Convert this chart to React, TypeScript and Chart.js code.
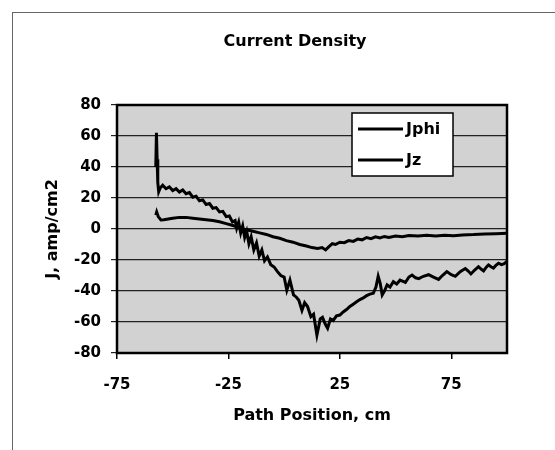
import { useEffect, useRef } from 'react';
import { Chart, registerables } from 'chart.js';

Chart.register(...registerables);

const chartTitle = 'Current Density';
const xAxisTitle = 'Path Position, cm';
const yAxisTitle = 'J, amp/cm2';
const seriesNames = ['Jphi', 'Jz'];

const xMin = -75;
const xMax = 100;
const xTickValues = [-75, -25, 25, 75];
const yMin = -80;
const yMax = 80;
const yStep = 20;

const jphiX = [
  -57.6, -57.3, -57.0, -56.7, -56.3, -55.6, -54.5, -53, -51.5, -50, -48.5, -47, -45.5,
  -44, -42.5, -41, -39.5, -38, -36.5, -35, -33.5, -32, -30.5, -29, -27.5,
  -26, -24.6, -23.2, -22, -21.3, -20.4, -19.5, -18.6, -17.7, -16.8, -15.8, -14.8,
  -13.6, -12.4, -11.2, -10, -8.8, -7.5, -6, -4.5, -3, -1.5, 0, 1.2, 2.6, 4.2, 5.5, 6.6, 8, 9.2,
  10.5, 12, 13.2, 14.7, 16.2, 17.2, 18.5, 19.5, 20.8, 22, 23.5, 25, 26.5, 28, 29.5, 31, 32.5,
  34, 35.5, 37, 38.5, 40, 41.2, 42.2, 43.1, 44, 45, 46.2, 47.5, 49, 50.5, 52, 54.4, 56, 57.4,
  59, 60.4, 62.5, 64.8, 67, 69.3, 71, 73, 75, 76.8, 79, 81.3, 82.5, 83.8, 85.5, 87.2, 88.5,
  89.5, 90.8, 91.7, 93, 93.9, 95, 96.2, 97.5, 98.5, 100,
];
const jphiY = [
  40, 62, 45, 30, 24, 26.5, 28.3, 26, 27.2, 24.8, 26, 23.8, 25.2,
  22.8, 23.5, 20.5, 21.2, 18.2, 18.8, 15.8, 16.4, 13.4, 13.8, 11, 11.4,
  8, 8.4, 4.5, 5.5, 0.5, 4.5, -2.5, 2, -5.5, -1.5, -9.5, -5,
  -13.5, -9, -17.5, -13.5, -20.5, -18, -23, -24.5, -27.5, -30, -31, -39.5, -33, -42.5, -44, -46, -52.5, -47.5,
  -50, -56.5, -55, -68.5, -58, -57, -61.5, -64, -58, -59, -56, -55.5, -53.5, -52, -50, -48.5, -47,
  -45.5, -44.5, -43, -42, -41.5, -37.5, -30.5, -35, -42.5, -40, -36, -37.5, -34, -35.5, -33, -34.5, -31, -29.7,
  -31.5, -32, -30.5, -29.5, -31, -32.5, -30, -27.5, -29.5, -30.5, -27.5, -25.5, -27, -29, -26.5, -24.3, -26,
  -27, -24.5, -23.2, -24.5, -25.2, -23.5, -22.1, -23, -22.5, -21,
];

const jzX = [
  -57.6, -57.2, -56.5, -55.3, -54, -52, -50, -47, -44, -41, -38, -35, -32, -29, -26, -23,
  -20, -17, -14, -11, -8, -5, -2, 1, 4, 7, 10, 12.5, 15, 17, 18.6, 20, 21.6, 23, 25, 27, 29,
  31, 33, 35, 37, 39, 41, 43, 45, 47, 50, 53, 56, 60, 64, 68, 72, 76, 80, 85, 90, 95, 100,
];
const jzY = [
  9, 11, 8, 5.8, 6, 6.5, 7, 7.5, 7.5, 7, 6.5, 6, 5.5, 4.7, 3.5, 2.3,
  0.5, -0.5, -1.5, -2.5, -3.5, -5, -6, -7.5, -8.5, -10, -11, -12, -12.5, -12, -13.5, -11.5, -9.5, -10, -8.5, -8.8, -7.5,
  -8, -6.5, -7, -5.5, -6.2, -5, -5.8, -4.8, -5.5, -4.5, -5, -4.2, -4.5, -4, -4.5, -4, -4.3, -3.8, -3.6, -3.2, -3, -2.8,
];

const FONT = 'DejaVu Sans';

const decorPlugin = {
  id: 'decor',
  beforeDraw(chart: any) {
    const { ctx, chartArea: a } = chart;
    ctx.save();
    ctx.fillStyle = '#ffffff';
    ctx.fillRect(0, 0, chart.width, chart.height);
    ctx.strokeStyle = '#666666';
    ctx.lineWidth = 1;
    ctx.strokeRect(12.5, 12.5, chart.width + 20, chart.height + 20);
    ctx.fillStyle = '#d2d2d2';
    ctx.fillRect(a.left, a.top, a.right - a.left, a.bottom - a.top);
    ctx.restore();
  },
  afterDatasetsDraw(chart: any) {
    const { ctx, chartArea: a } = chart;
    ctx.save();
    ctx.strokeStyle = '#000000';
    ctx.lineWidth = 2.5;
    ctx.strokeRect(a.left, a.top, a.right - a.left, a.bottom - a.top);
    // legend box
    const bw = 101;
    const bh = 63;
    const bx = a.right - 54 - bw;
    const by = a.top + 8;
    ctx.fillStyle = '#ffffff';
    ctx.fillRect(bx, by, bw, bh);
    ctx.lineWidth = 1.5;
    ctx.strokeRect(bx, by, bw, bh);
    ctx.font = `bold 16px "${FONT}"`;
    ctx.textBaseline = 'middle';
    ctx.textAlign = 'left';
    chart.data.datasets.forEach((ds: any, i: number) => {
      const y = by + 16 + i * 31;
      ctx.strokeStyle = ds.borderColor;
      ctx.lineWidth = ds.borderWidth;
      ctx.beginPath();
      ctx.moveTo(bx + 6, y);
      ctx.lineTo(bx + 51, y);
      ctx.stroke();
      ctx.fillStyle = '#000000';
      ctx.fillText(ds.label, bx + 54, y + 1);
    });
    ctx.restore();
  },
};

export default function App() {
  const canvasRef = useRef<HTMLCanvasElement | null>(null);

  useEffect(() => {
    const canvas = canvasRef.current;
    if (!canvas) return;
    const tickFont = { family: FONT, weight: 'bold' as const, size: 15 };
    const titleFont = { family: FONT, weight: 'bold' as const, size: 16 };
    const chart = new Chart(canvas, {
      type: 'scatter',
      data: {
        datasets: [
          {
            label: seriesNames[0],
            data: jphiX.map((x, i) => ({ x, y: jphiY[i] })),
            showLine: true,
            borderColor: '#000000',
            borderWidth: 3,
            pointRadius: 0,
            tension: 0,
          },
          {
            label: seriesNames[1],
            data: jzX.map((x, i) => ({ x, y: jzY[i] })),
            showLine: true,
            borderColor: '#000000',
            borderWidth: 3,
            pointRadius: 0,
            tension: 0,
          },
        ],
      },
      options: {
        responsive: false,
        animation: false,
        devicePixelRatio: 1,
        layout: { padding: { left: 35, right: 0, top: 0, bottom: 0 } },
        plugins: {
          legend: { display: false },
          tooltip: { enabled: false },
          title: {
            display: true,
            text: chartTitle,
            color: '#000000',
            font: titleFont,
            padding: { top: 32.4, bottom: 53.4 },
          },
        },
        scales: {
          x: {
            type: 'linear',
            position: 'bottom',
            min: xMin,
            max: xMax,
            afterBuildTicks: (scale: any) => {
              scale.ticks = xTickValues.map((v) => ({ value: v }));
            },
            afterFit: (scale: any) => {
              scale.height = 97;
            },
            grid: {
              display: true,
              drawOnChartArea: false,
              drawTicks: true,
              tickLength: 6,
              color: '#000000',
              lineWidth: 1.5,
            },
            border: { display: false },
            ticks: {
              color: '#000000',
              font: tickFont,
              padding: 17,
              maxRotation: 0,
              autoSkip: false,
              callback: (v: any) => String(v),
            },
            title: {
              display: true,
              text: xAxisTitle,
              color: '#000000',
              font: titleFont,
              padding: { top: 0, bottom: 24.4 },
            },
          },
          y: {
            type: 'linear',
            position: 'left',
            min: yMin,
            max: yMax,
            afterFit: (scale: any) => {
              scale.width = 82;
            },
            grid: {
              display: true,
              drawOnChartArea: true,
              drawTicks: true,
              tickLength: 6,
              color: '#222222',
              lineWidth: 1.2,
            },
            border: { display: false },
            ticks: {
              stepSize: yStep,
              color: '#000000',
              font: tickFont,
              padding: 10,
            },
            title: {
              display: true,
              text: yAxisTitle,
              color: '#000000',
              font: titleFont,
              padding: { top: 8.4, bottom: 0 },
            },
          },
          yRight: {
            type: 'linear',
            position: 'right',
            display: true,
            afterFit: (scale: any) => {
              scale.width = 48;
            },
            grid: { display: false, drawTicks: false },
            border: { display: false },
            ticks: { display: false },
          },
        },
      },
      plugins: [decorPlugin],
    } as any);
    return () => chart.destroy();
  }, []);

  return (
    <div style={{ position: 'absolute', left: 0, top: 0, width: 555, height: 450 }}>
      <canvas ref={canvasRef} width={555} height={450} style={{ width: 555, height: 450, display: 'block' }} />
    </div>
  );
}
